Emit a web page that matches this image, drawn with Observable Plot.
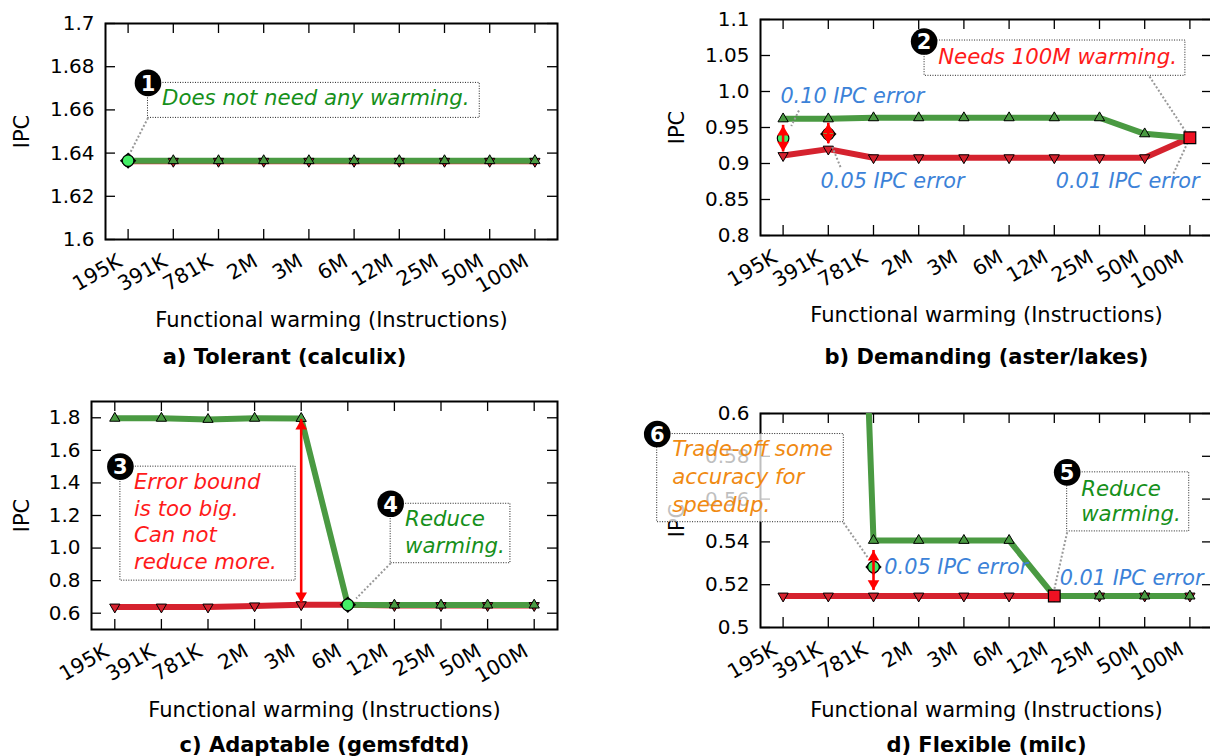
<!DOCTYPE html>
<html>
<head>
<meta charset="utf-8">
<script src="https://cdn.jsdelivr.net/npm/d3@7"></script>
<script src="https://cdn.jsdelivr.net/npm/@observablehq/plot@0.6"></script>
<style>
  html, body { margin: 0; padding: 0; background: #fff; }
  #wrap { position: relative; width: 1210px; height: 756px; overflow: hidden; font-family: "DejaVu Sans", sans-serif; }
  .panel { position: absolute; }
</style>
</head>
<body>
<div id="wrap"></div>
<script>
// ---------- shared categories ----------
const categories = ["195K", "391K", "781K", "2M", "3M", "6M", "12M", "25M", "50M", "100M"];

// ---------- a) Tolerant (calculix) ----------
const aGreen = [1.6365, 1.6365, 1.6365, 1.6365, 1.6365, 1.6365, 1.6365, 1.6365, 1.6365, 1.6365];
const aRed   = [1.6362, 1.6362, 1.6362, 1.6362, 1.6362, 1.6362, 1.6362, 1.6362, 1.6362, 1.6362];
const aYTicks = [1.6, 1.62, 1.64, 1.66, 1.68, 1.7];
const aYTickLabels = ["1.6", "1.62", "1.64", "1.66", "1.68", "1.7"];
const aBadges = [{x: 0.44, y: 1.6725, t: "1"}];
const aBoxes = [{x1: 0.44, x2: 7.78, y1: 1.6725, y2: 1.6563}];
const aNotes = [{x: 0.75, y: 1.6653, t: "Does not need any warming.", c: "green"}];
const aLeaders = [{x1: 0.44, y1: 1.6563, x2: 0.03, y2: 1.6395}];
const aChosen = [{x: 0, y: 1.6365, diamond: true}];
const aArrows = [];
const aSquares = [];

// ---------- b) Demanding (aster/lakes) ----------
const bGreen = [0.962, 0.962, 0.9635, 0.9635, 0.9635, 0.9635, 0.9635, 0.9635, 0.9412, 0.9357];
const bRed   = [0.911, 0.920, 0.908, 0.908, 0.908, 0.908, 0.908, 0.908, 0.908, 0.9357];
const bYTicks = [0.8, 0.85, 0.9, 0.95, 1.0, 1.05, 1.1];
const bYTickLabels = ["0.8", "0.85", "0.9", "0.95", "1.0", "1.05", "1.1"];
const bBadges = [{x: 3.12, y: 1.0694, t: "2"}];
const bBoxes = [{x1: 3.13, x2: 8.90, y1: 1.0708, y2: 1.0218}];
const bNotes = [
  {x: 3.43, y: 1.048, t: "Needs 100M warming.", c: "red"},
  {x: -0.06, y: 0.993, t: "0.10 IPC error", c: "blue"},
  {x: 0.83, y: 0.875, t: "0.05 IPC error", c: "blue"},
  {x: 6.03, y: 0.875, t: "0.01 IPC error", c: "blue"}
];
const bLeaders = [
  {x1: 8.106, y1: 1.0208, x2: 8.92, y2: 0.943},
  {x1: 0.35, y1: 0.9736, x2: 0.18, y2: 0.952},
  {x1: 1.27, y1: 0.895, x2: 1.09, y2: 0.9226},
  {x1: 8.637, y1: 0.886, x2: 8.97, y2: 0.932}
];
const bChosen = [{x: 0, y: 0.935, diamond: false}, {x: 1, y: 0.941, diamond: true}];
const bArrows = [{x: 0, y1: 0.953, y2: 0.916}, {x: 1, y1: 0.956, y2: 0.9274}];
const bSquares = [{x: 9, y: 0.9357}];

// ---------- c) Adaptable (gemsfdtd) ----------
const cGreen = [1.797, 1.797, 1.79, 1.797, 1.796, 0.652, 0.65, 0.65, 0.65, 0.65];
const cRed   = [0.638, 0.638, 0.638, 0.645, 0.652, 0.652, 0.647, 0.647, 0.647, 0.647];
const cYTicks = [0.6, 0.8, 1.0, 1.2, 1.4, 1.6, 1.8];
const cYTickLabels = ["0.6", "0.8", "1.0", "1.2", "1.4", "1.6", "1.8"];
const cBadges = [{x: 0.12, y: 1.50, t: "3"}, {x: 5.92, y: 1.272, t: "4"}];
const cBoxes = [{x1: 0.12, x2: 3.88, y1: 1.50, y2: 0.80}, {x1: 5.92, x2: 8.49, y1: 1.272, y2: 0.907}];
const cNotes = [
  {x: 0.41, y: 1.404, t: "Error bound", c: "red"},
  {x: 0.41, y: 1.241, t: "is too big.", c: "red"},
  {x: 0.41, y: 1.078, t: "Can not", c: "red"},
  {x: 0.41, y: 0.914, t: "reduce more.", c: "red"},
  {x: 6.23, y: 1.18, t: "Reduce", c: "green"},
  {x: 6.23, y: 1.01, t: "warming.", c: "green"}
];
const cLeaders = [{x1: 5.92, y1: 0.907, x2: 5.18, y2: 0.69}];
const cChosen = [{x: 5, y: 0.652, diamond: true}];
const cArrows = [{x: 4, y1: 1.79, y2: 0.665}];
const cSquares = [];

// ---------- d) Flexible (milc) ----------
const dGreen = [1.12, 1.12, 0.5407, 0.5407, 0.5407, 0.5407, 0.5147, 0.5147, 0.5147, 0.5147];
const dRed   = [0.5147, 0.5147, 0.5147, 0.5147, 0.5147, 0.5147, 0.5147, 0.5147, 0.5147, 0.5147];
const dYTicks = [0.5, 0.52, 0.54, 0.56, 0.58, 0.6];
const dYTickLabels = ["0.5", "0.52", "0.54", "0.56", "0.58", "0.6"];
const dBadges = [{x: 6.285, y: 0.5725, t: "5"}, {x: -2.785, y: 0.5904, t: "6"}];
const dBoxes = [{x1: 6.285, x2: 8.985, y1: 0.5725, y2: 0.5449}, {x1: -2.785, x2: 1.343, y1: 0.5904, y2: 0.5492}];
const dNotes = [
  {x: 6.595, y: 0.5648, t: "Reduce", c: "green"},
  {x: 6.595, y: 0.5528, t: "warming.", c: "green"},
  {x: -2.454, y: 0.5834, t: "Trade-off some", c: "orange"},
  {x: -2.454, y: 0.5702, t: "accuracy for", c: "orange"},
  {x: -2.454, y: 0.5573, t: "speedup.", c: "orange"},
  {x: 2.24, y: 0.528, t: "0.05 IPC error", c: "blue"},
  {x: 6.12, y: 0.5232, t: "0.01 IPC error", c: "blue"}
];
const dLeaders = [
  {x1: 6.285, y1: 0.5445, x2: 5.98, y2: 0.516},
  {x1: 1.336, y1: 0.549, x2: 1.89, y2: 0.5322}
];
const dChosen = [{x: 2, y: 0.5283, diamond: true}];
const dArrows = [{x: 2, y1: 0.536, y2: 0.5173}];
const dSquares = [{x: 6, y: 0.5147}];

// ---------- styling ----------
const GREEN = "#4a9a42", RED = "#d5222e", LIME = "#44ee66";
const noteColor = {green: "#16901a", red: "#ff1a1a", blue: "#3c82d8", orange: "#f08a12"};

function panelPlot(p) {
  const fw = p.width - p.ml - p.mr, fh = p.height - p.mt - p.mb;
  const idx = categories.map((_, i) => i);
  const yLab = new Map(p.yTicks.map((t, k) => [t, p.yTickLabels[k]]));
  const rows = vals => vals.map((v, i) => ({i, v}));
  const tk = {stroke: "black", strokeWidth: 1.3};
  const marks = [
    Plot.ruleY(p.yTicks, {y: d => d, insetRight: fw - 10, ...tk}),
    Plot.ruleY(p.yTicks, {y: d => d, insetLeft: fw - 10, ...tk}),
    Plot.ruleX(idx, {x: d => d, insetTop: fh - 10, ...tk}),
    Plot.ruleX(idx, {x: d => d, insetBottom: fh - 10, ...tk}),
    Plot.axisY(p.yTicks, {tickSize: 0, tickPadding: 11, tickFormat: d => yLab.get(d), fontSize: 20, label: null}),
    Plot.axisX(idx, {tickSize: 0, tickPadding: 20, tickRotate: -30, textAnchor: "end", lineAnchor: "middle", dx: -8,
                     tickFormat: d => categories[d], fontSize: 20.5, label: null}),
    Plot.text(["IPC"], {text: d => d, frameAnchor: "left", rotate: -90, dx: p.ipcDx, fontSize: 21, textAnchor: "middle", lineAnchor: "middle"}),
    Plot.text(["Functional warming (Instructions)"], {text: d => d, frameAnchor: "bottom", dy: p.xLabelDy, fontSize: 21, lineAnchor: "middle"}),
    Plot.text([p.title], {text: d => d, frameAnchor: "bottom", dy: p.titleDy, dx: p.titleDx, fontSize: 21, fontWeight: "bold", lineAnchor: "middle"}),
    Plot.frame({stroke: "black", strokeWidth: 2}),
    Plot.line(rows(p.red), {x: "i", y: "v", stroke: RED, strokeWidth: 6, clip: true}),
    Plot.line(rows(p.green), {x: "i", y: "v", stroke: GREEN, strokeWidth: 6, clip: true}),
    Plot.dot(rows(p.red), {x: "i", y: "v", symbol: "triangle", rotate: 180, r: 3.8, fill: RED, stroke: "black", strokeWidth: 1, clip: true}),
    Plot.dot(rows(p.green), {x: "i", y: "v", symbol: "triangle", r: 3.8, fill: GREEN, stroke: "black", strokeWidth: 1, clip: true}),
    Plot.link(p.leaders, {x1: "x1", y1: "y1", x2: "x2", y2: "y2", stroke: "#999", strokeWidth: 2, strokeDasharray: "2,2"}),
    Plot.rect(p.boxes, {x1: "x1", x2: "x2", y1: "y1", y2: "y2", fill: "white", fillOpacity: 0.75, stroke: "#222", strokeWidth: 1, strokeDasharray: "1,1.5"}),
    Plot.dot(p.badges, {x: "x", y: "y", r: 13.3, fill: "black"}),
    Plot.text(p.badges, {x: "x", y: "y", text: "t", fill: "white", fontSize: 21, fontWeight: "bold", lineAnchor: "middle", dy: 1})
  ];
  for (const n of p.notes) {
    marks.push(Plot.text([n], {x: "x", y: "y", text: "t", fill: noteColor[n.c], fontSize: n.c === "blue" ? 20.8 : 21.3,
      fontStyle: "italic", textAnchor: "start", lineAnchor: "middle"}));
  }
  marks.push(
    Plot.dot(p.chosen.filter(d => d.diamond), {x: "x", y: "y", symbol: "diamond2", r: 7.4, fill: "black"}),
    Plot.dot(p.chosen, {x: "x", y: "y", r: 5.8, fill: LIME, stroke: "black", strokeWidth: 1.2}),
    Plot.ruleX(p.arrows, {x: "x", y1: "y1", y2: "y2", stroke: "#ff0000", strokeWidth: 2.6}),
    Plot.dot(p.arrows, {x: "x", y: "y1", symbol: "triangle", r: 4.3, fill: "#ff0000", dy: 6.8}),
    Plot.dot(p.arrows, {x: "x", y: "y2", symbol: "triangle", rotate: 180, r: 4.3, fill: "#ff0000", dy: -6.8}),
    Plot.dot(p.squares, {x: "x", y: "y", symbol: "square", r: 6.6, fill: "#ee1122", stroke: "black", strokeWidth: 1.2})
  );
  return Plot.plot({
    width: p.width, height: p.height,
    marginTop: p.mt, marginRight: p.mr, marginBottom: p.mb, marginLeft: p.ml,
    x: {domain: [-0.5, 9.5]},
    y: {domain: p.yDomain},
    style: {fontFamily: "'DejaVu Sans', sans-serif", background: "transparent", overflow: "visible", maxWidth: "none"},
    marks
  });
}

const panels = [
  {left: 0, top: 0, width: 605, height: 378, mt: 23, mr: 48, mb: 139, ml: 105, yDomain: [1.6, 1.7],
   yTicks: aYTicks, yTickLabels: aYTickLabels, green: aGreen, red: aRed,
   badges: aBadges, boxes: aBoxes, notes: aNotes, leaders: aLeaders, chosen: aChosen, arrows: aArrows, squares: aSquares,
   ipcDx: -83, xLabelDy: 81, titleDy: 118, titleDx: -47, title: "a) Tolerant (calculix)"},
  {left: 600, top: 0, width: 620, height: 378, mt: 19, mr: 8, mb: 143, ml: 160, yDomain: [0.8, 1.1],
   yTicks: bYTicks, yTickLabels: bYTickLabels, green: bGreen, red: bRed,
   badges: bBadges, boxes: bBoxes, notes: bNotes, leaders: bLeaders, chosen: bChosen, arrows: bArrows, squares: bSquares,
   ipcDx: -83, xLabelDy: 80, titleDy: 122, titleDx: 0, title: "b) Demanding (aster/lakes)"},
  {left: 0, top: 385, width: 605, height: 371, mt: 16, mr: 48, mb: 127, ml: 91, yDomain: [0.5, 1.9],
   yTicks: cYTicks, yTickLabels: cYTickLabels, green: cGreen, red: cRed,
   badges: cBadges, boxes: cBoxes, notes: cNotes, leaders: cLeaders, chosen: cChosen, arrows: cArrows, squares: cSquares,
   ipcDx: -69, xLabelDy: 81, titleDy: 116, titleDx: 0, title: "c) Adaptable (gemsfdtd)"},
  {left: 600, top: 385, width: 620, height: 371, mt: 28, mr: 8, mb: 129, ml: 160, yDomain: [0.5, 0.6],
   yTicks: dYTicks, yTickLabels: dYTickLabels, green: dGreen, red: dRed,
   badges: dBadges, boxes: dBoxes, notes: dNotes, leaders: dLeaders, chosen: dChosen, arrows: dArrows, squares: dSquares,
   ipcDx: -83, xLabelDy: 83, titleDy: 118, titleDx: 0, title: "d) Flexible (milc)"}
];

const wrap = document.getElementById("wrap");
for (const p of panels) {
  const div = document.createElement("div");
  div.className = "panel";
  div.style.left = p.left + "px";
  div.style.top = p.top + "px";
  div.style.width = p.width + "px";
  div.style.height = p.height + "px";
  div.appendChild(panelPlot(p));
  wrap.appendChild(div);
}
</script>
</body>
</html>
